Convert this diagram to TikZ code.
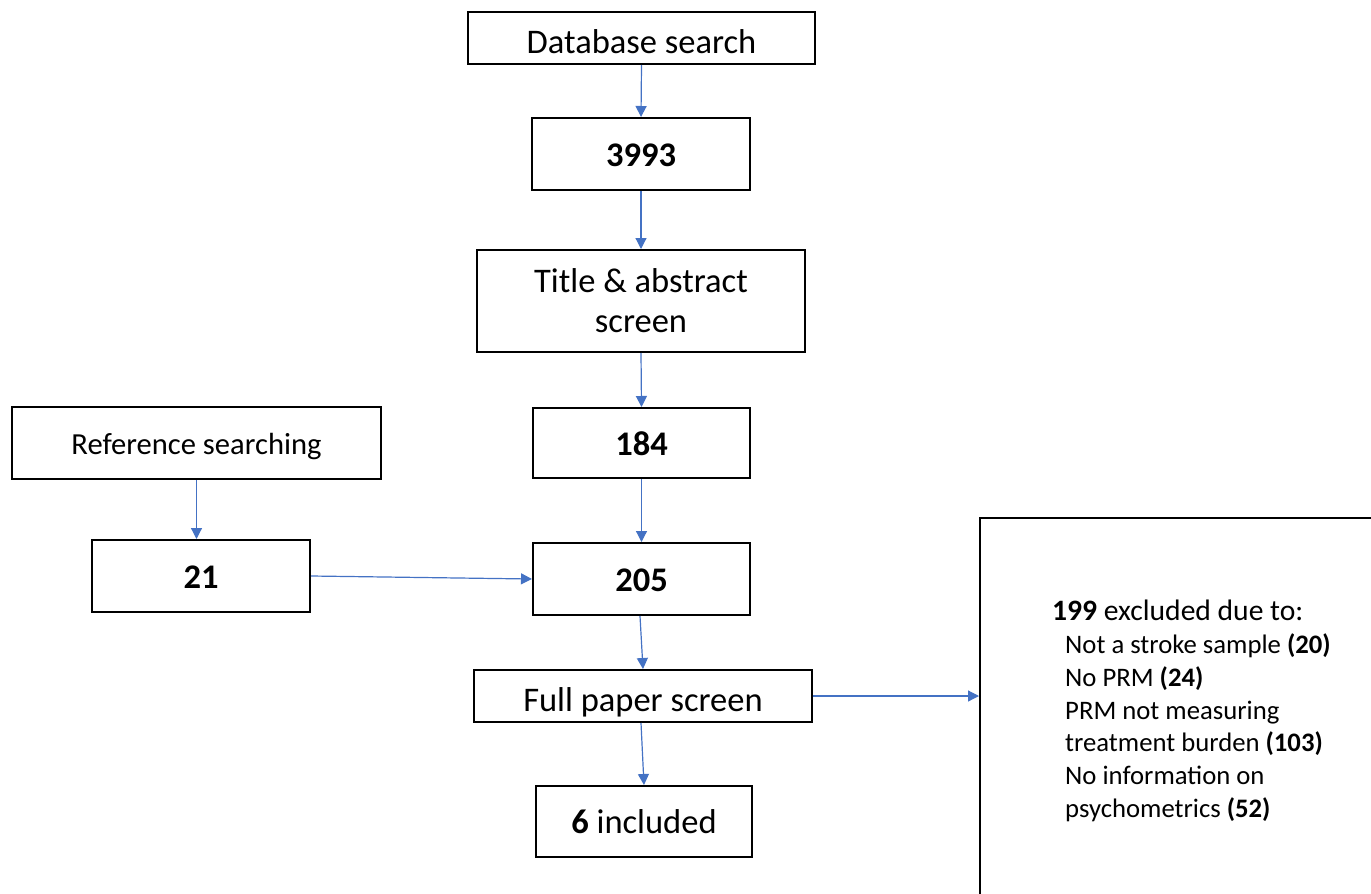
\documentclass[tikz,border=0pt]{standalone}
\usepackage{fontspec}
\setmainfont{Carlito}
\usetikzlibrary{arrows.meta}
\definecolor{arrowblue}{HTML}{4472C4}
\begin{document}
\begin{tikzpicture}[x=1pt,y=-1pt,
  box/.style={draw=black,line width=2pt,inner sep=0pt,
    font=\fontsize{34.5}{40}\selectfont},
  lowtext/.style={text height=30pt,text depth=0pt},
  numtext/.style={text height=28pt,text depth=4pt},
  flow/.style={draw=arrowblue,line width=1.2pt,-{Triangle[length=11pt,width=11pt]}},
  exline/.style={anchor=base west,inner sep=0pt,font=\fontsize{26.7}{32}\selectfont}]
\useasboundingbox (0,0) rectangle (1371,894);
\node[box,lowtext,minimum width=347pt,minimum height=52pt] (db) at (641.5,38) {Database search};
\node[box,numtext,minimum width=218pt,minimum height=72pt] (n3993) at (641,154) {\textbf{3993}};
\node[box,align=center,minimum width=328pt,minimum height=102pt] (title) at (641,301) {Title \& abstract\\screen};
\node[box,numtext,minimum width=217pt,minimum height=70pt] (n184) at (641.5,443) {\textbf{184}};
\node[box,minimum width=369pt,minimum height=72pt,font=\fontsize{30.6}{36}\selectfont,
  text height=27pt,text depth=5pt] (ref) at (196.5,443) {Reference searching};
\node[box,numtext,minimum width=218pt,minimum height=72pt] (n21) at (201,576) {\textbf{21}};
\node[box,numtext,minimum width=217pt,minimum height=72pt] (n205) at (641.5,579) {\textbf{205}};
\node[box,lowtext,minimum width=338pt,minimum height=52pt] (full) at (643,696) {Full paper screen};
\node[box,numtext,minimum width=216pt,minimum height=71pt] (inc) at (644,821.5) {\textbf{6} included};
\node[draw=black,line width=2pt,inner sep=0pt,anchor=north west,minimum width=420pt,minimum height=400pt] (excl) at (979,517) {};
\node[exline,font=\fontsize{29.6}{34}\selectfont] (l0) at (1052,620) {\textbf{199} excluded due to:};
\node[exline] (l1) at (1065,653) {Not a stroke sample \textbf{(20)}};
\node[exline] (l2) at (1065,686) {No PRM \textbf{(24)}};
\node[exline] (l3) at (1065,719) {PRM not measuring};
\node[exline] (l4) at (1065,751) {treatment burden \textbf{(103)}};
\node[exline] (l5) at (1065,784) {No information on};
\node[exline] (l6) at (1065,817) {psychometrics \textbf{(52)}};
\draw[flow] (db.south) -- (n3993.north);
\draw[flow] (n3993.south) -- (title.north);
\draw[flow] (title.south) -- (n184.north);
\draw[flow] (n184.south) -- (n205.north);
\draw[flow] (ref.south) -- (n21.north -| ref.south);
\draw[flow] (n21.east) -- (n205.west);
\draw[flow] ([xshift=-1.5pt]n205.south) -- (full.north);
\draw[flow] ([xshift=-2pt]full.south) -- (inc.north);
\draw[flow] (full.east) -- (full.east -| excl.west);
\end{tikzpicture}
\end{document}
